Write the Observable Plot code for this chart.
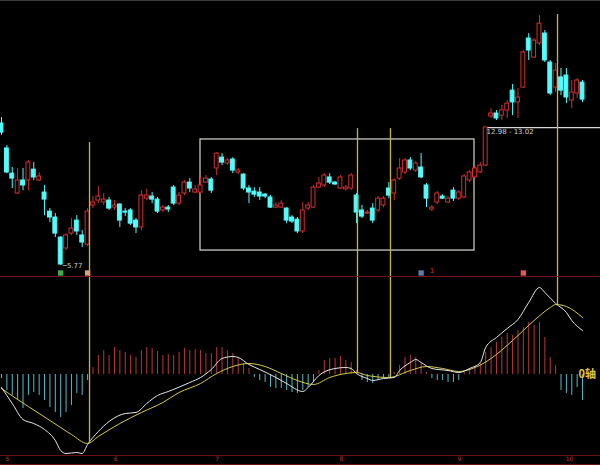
<!DOCTYPE html>
<html><head><meta charset="utf-8">
<script src="https://cdn.jsdelivr.net/npm/d3@7"></script>
<script src="https://cdn.jsdelivr.net/npm/@observablehq/plot@0.6"></script>
<style>
html,body{margin:0;padding:0;background:#000;width:600px;height:465px;overflow:hidden}
#pricePanel{border-top:1px solid #3c3c3c;border-bottom:1px solid #7a1414}
#macdPanel{border-bottom:1px solid #6a1010}
svg{display:block}
</style></head><body>
<div id="pricePanel"></div><div id="macdPanel"></div>
<script>
// ---- price candles (one per trading day, index = position) ----
const opens=[13.22,11.91,10.59,9.55,10.23,10.23,10.80,10.23,9.60,8.60,8.29,7.24,6.67,7.45,8.13,7.35,6.87,8.92,9.18,9.08,9.18,8.81,8.97,8.60,8.66,8.13,7.77,9.28,9.39,9.23,8.66,8.81,9.86,9.02,9.55,10.12,9.60,9.60,10.12,10.28,10.86,11.43,11.12,11.33,10.65,10.54,9.81,9.65,9.60,9.49,9.34,8.81,8.81,8.76,8.29,8.18,7.56,8.76,8.81,9.86,9.97,10.39,10.12,9.81,9.76,9.81,9.44,8.66,8.50,8.76,8.66,8.92,9.81,9.55,10.33,10.65,11.28,10.75,10.91,9.97,8.71,9.08,9.39,9.08,9.70,9.28,9.34,10.23,10.39,10.65,11.01,13.58,13.74,13.63,13.90,14.94,14.32,15.10,17.67,16.67,17.41,17.93,16.41,15.10,15.63,15.73,14.42,14.79,15.36];
const closes=[12.74,10.65,10.33,10.23,9.97,11.17,10.39,10.44,9.23,8.29,7.45,5.83,7.35,7.71,7.56,6.98,8.60,9.08,9.39,9.23,8.76,8.92,8.13,8.55,7.97,7.77,9.44,9.44,9.23,8.60,8.81,8.71,9.02,9.44,10.12,9.81,9.76,9.97,10.33,9.70,11.64,11.17,11.28,10.75,10.75,9.81,9.60,9.49,9.39,9.39,8.81,8.92,9.02,8.13,8.08,7.56,8.66,8.92,9.86,10.07,10.49,10.12,10.02,10.39,9.86,10.49,8.55,8.34,8.55,8.13,9.28,9.28,9.44,10.23,10.86,11.28,10.86,11.12,10.39,9.28,8.81,9.55,9.28,9.28,9.28,9.60,10.44,10.65,10.86,11.01,13.01,13.74,13.48,13.90,14.26,14.32,14.58,16.94,17.04,17.56,18.45,16.52,14.79,15.99,14.94,14.58,14.84,15.47,14.47];
const highs=[13.53,12.06,10.91,10.86,10.86,11.28,11.17,10.65,9.97,8.76,8.50,7.29,7.45,8.24,8.39,7.61,8.76,9.39,9.91,9.55,9.34,9.18,9.02,8.76,8.76,8.24,9.70,9.76,9.60,9.34,8.92,8.92,9.97,9.60,10.23,10.33,9.97,10.39,10.49,10.39,11.70,11.64,11.38,11.43,10.86,10.59,9.97,9.86,9.86,9.55,9.44,9.08,9.18,8.81,8.39,8.29,9.08,9.08,9.97,10.39,10.59,10.59,10.18,10.49,9.97,10.59,9.55,8.92,8.66,9.02,9.39,9.39,10.12,10.33,11.38,11.38,11.43,11.22,11.64,10.07,8.92,9.65,9.49,9.39,9.86,9.70,10.54,10.75,11.01,11.17,13.01,14.00,13.90,14.16,14.42,15.26,15.05,17.04,17.93,17.67,18.87,18.09,16.52,16.36,16.10,16.10,15.47,15.57,15.47];
const lows=[12.59,10.59,9.81,9.49,9.70,9.70,10.23,10.18,8.39,8.03,7.24,5.77,6.56,7.35,7.35,6.72,6.77,8.76,9.02,8.92,8.66,8.66,7.77,8.34,7.87,7.45,7.61,9.18,9.02,8.50,8.55,8.55,8.92,8.92,9.44,9.60,9.55,9.49,10.07,9.55,10.49,11.01,11.01,10.59,10.54,9.70,9.02,9.34,9.18,9.28,8.76,8.76,8.76,7.97,7.97,7.45,7.45,8.66,8.76,9.81,9.86,10.02,9.97,9.76,9.70,9.70,7.97,8.24,8.45,7.97,8.55,8.81,9.28,9.18,10.23,10.54,10.75,10.65,10.33,8.81,8.60,8.97,9.23,9.02,9.13,9.18,9.28,10.12,10.33,10.59,10.96,13.48,13.37,13.37,13.48,13.63,13.48,15.05,16.52,16.62,17.30,16.41,14.68,14.84,14.68,14.26,14.00,14.53,14.32];

// ---- MACD ----
const hist=[-0.04,-0.16,-0.21,-0.26,-0.34,-0.21,-0.18,-0.21,-0.26,-0.33,-0.38,-0.43,-0.38,-0.31,-0.19,-0.21,-0.06,
0.07,0.19,0.24,0.19,0.27,0.24,0.22,0.19,0.17,0.24,0.27,0.26,0.23,0.19,0.20,0.19,0.22,0.26,0.24,0.25,0.24,0.21,0.21,0.27,0.27,0.24,0.21,0.16,0.11,0.06,
-0.03,-0.06,-0.08,-0.13,-0.14,-0.14,-0.16,-0.18,-0.19,-0.16,-0.13,-0.08,
0.04,0.14,0.16,0.16,0.18,0.14,0.12,0.04,
-0.06,-0.08,-0.09,-0.06,-0.04,-0.03,
0.02,0.09,0.17,0.19,0.17,0.11,0.02,
-0.04,-0.06,-0.06,-0.08,-0.08,-0.06,
0.02,0.06,0.08,0.11,0.22,0.27,0.32,0.37,0.41,0.39,0.44,0.47,0.52,0.49,0.52,0.37,0.17,0.09,
-0.16,-0.19,-0.21,-0.13,-0.26];
const difIdx=[0,2,4,6,8,10,11,12,14,15,16,18,20,23,25,27,29,31,35,37,39,41,43,44,46,48,51,53,56,57,59,62,64,65,66,68,69,71,73,74,76,77,78,80,83,85,87,89,90,92,94,96,98,100,101,103,105,106,108];
const difVal=[-0.13,-0.29,-0.45,-0.49,-0.55,-0.66,-0.76,-0.79,-0.78,-0.79,-0.70,-0.57,-0.47,-0.39,-0.38,-0.29,-0.21,-0.17,-0.08,-0.03,0.05,0.16,0.18,0.17,0.10,0.05,-0.03,-0.09,-0.17,-0.13,-0.01,0.06,0.07,0.06,0.01,-0.04,-0.06,-0.04,-0.03,0.04,0.12,0.15,0.12,0.06,0.04,0.02,0.06,0.12,0.27,0.37,0.46,0.55,0.72,0.87,0.82,0.71,0.62,0.54,0.44];
const deaIdx=[0,3,7,11,13,16,18,22,26,30,33,37,40,43,46,49,52,55,58,61,64,66,68,72,76,79,82,85,88,91,95,99,102,103,105,108];
const deaVal=[-0.14,-0.25,-0.39,-0.53,-0.60,-0.69,-0.62,-0.49,-0.38,-0.28,-0.18,-0.09,0.01,0.08,0.11,0.08,0.01,-0.06,-0.10,-0.03,0.01,0.02,-0.01,-0.03,0.04,0.08,0.06,0.03,0.07,0.16,0.34,0.54,0.67,0.70,0.68,0.57];

// ---- annotations ----
const crossIdx=[16.36,66.17,72.3,103.35];
const crossTop=[12.22,12.95,12.95,18.93];
const crossMacd=[-0.69,0.01,-0.03,0.70];
const boxIdx=[36.99,87.92];
const boxPrice=[6.56,12.38];
const levelPrice=13.00, levelFrom=89.8, levelText="12.98 - 13.02";
const lowIdx=11, lowText="─5.77";
const sigIdx=[11,16,78,97];
const sigColor=["#3fae4a","#e0a070","#5b7fb0","#e05a5a"];
const monthLabels=["5","6","7","8","9","10"];
const monthIdx=[1.1,21.2,40.1,63.2,85.1,105.6];

const X_DOMAIN=[-0.186,111.34];
const P_DOMAIN=[5.20,19.61];
const M_DOMAIN=[-0.81,0.97];
const RED="#d03030", CYAN="#54fcfc", GOLD="#c6b450";

const candles=opens.map((o,i)=>({i,open:o,close:closes[i],high:highs[i],low:lows[i],up:closes[i]>=o}));
const crosses=crossIdx.map((x,k)=>({i:x,top:crossTop[k],m:crossMacd[k]}));
const bars=hist.map((v,i)=>({i,v}));
const dif=difIdx.map((i,k)=>({i,v:difVal[k]}));
const dea=deaIdx.map((i,k)=>({i,v:deaVal[k]}));

const pricePlot=Plot.plot({
  width:600,height:275,margin:0,
  x:{domain:X_DOMAIN,axis:null},
  y:{domain:P_DOMAIN,axis:null},
  style:{background:"#000",overflow:"visible"},
  marks:[
    Plot.rect([0],{x1:()=>boxIdx[0],x2:()=>boxIdx[1],y1:()=>boxPrice[0],y2:()=>boxPrice[1],fill:"none",stroke:"#d8d8d0",strokeWidth:1.2}),
    Plot.ruleY([levelPrice],{x1:levelFrom,x2:X_DOMAIN[1],stroke:"#d8d8d8",strokeWidth:1.2}),
    Plot.ruleX(candles,{x:"i",y1:"low",y2:"high",stroke:d=>d.up?RED:CYAN,strokeWidth:1}),
    Plot.rect(candles,{x1:d=>d.i-0.36,x2:d=>d.i+0.36,y1:"open",y2:"close",fill:d=>d.up?"#000":CYAN,stroke:d=>d.up?RED:CYAN,strokeWidth:1}),
    Plot.ruleX(crosses,{x:"i",y1:"top",y2:P_DOMAIN[0],stroke:GOLD,strokeWidth:1.3}),
    Plot.text([levelText],{x:levelFrom,y:levelPrice,text:d=>d,textAnchor:"start",lineAnchor:"top",dx:2,dy:1,fill:"#cfcfcf",fontSize:7,fontFamily:"DejaVu Sans"}),
    Plot.text([lowText],{x:lowIdx,y:lows[lowIdx],text:d=>d,textAnchor:"start",dx:2,fill:"#cfcfcf",fontSize:7,fontFamily:"DejaVu Sans"}),
    Plot.dot(sigIdx.map((i,k)=>({i,c:sigColor[k]})),{x:"i",frameAnchor:"bottom",dy:-3.5,symbol:"square",r:3,fill:"c"}),
    Plot.text(["1"],{x:80,frameAnchor:"bottom",dy:-3.5,text:d=>d,fill:RED,fontSize:7,fontFamily:"DejaVu Sans"})
  ]
});
document.getElementById("pricePanel").appendChild(pricePlot);

const macdPlot=Plot.plot({
  width:600,height:187,marginTop:0,marginLeft:0,marginRight:0,marginBottom:9,
  x:{domain:X_DOMAIN,axis:null},
  y:{domain:M_DOMAIN,axis:null},
  style:{background:"#000",overflow:"visible"},
  marks:[
    Plot.ruleX(bars,{x:"i",y1:0,y2:"v",stroke:d=>d.v>=0?"#b83838":"#5ab8c4",strokeWidth:1}),
    Plot.line(dea,{x:"i",y:"v",stroke:"#d6cc44",strokeWidth:1,curve:"monotone-x"}),
    Plot.line(dif,{x:"i",y:"v",stroke:"#e8e8e8",strokeWidth:1,curve:"monotone-x"}),
    Plot.ruleX(crosses,{x:"i",y1:"m",y2:M_DOMAIN[1],stroke:GOLD,strokeWidth:1.3}),
    Plot.text(["0轴"],{x:107.25,y:0,text:d=>d,textAnchor:"start",fill:"#e8c040",fontWeight:"bold",fontSize:11,fontFamily:"Noto Sans CJK SC"}),
    Plot.ruleY([M_DOMAIN[0]],{stroke:"#6a1010",strokeWidth:1}),
    Plot.text(monthLabels,{x:(d,k)=>monthIdx[k],frameAnchor:"bottom",dy:5,text:d=>d,fill:"#c03030",fontSize:6,fontFamily:"DejaVu Sans"})
  ]
});
document.getElementById("macdPanel").appendChild(macdPlot);
</script>
</body></html>
